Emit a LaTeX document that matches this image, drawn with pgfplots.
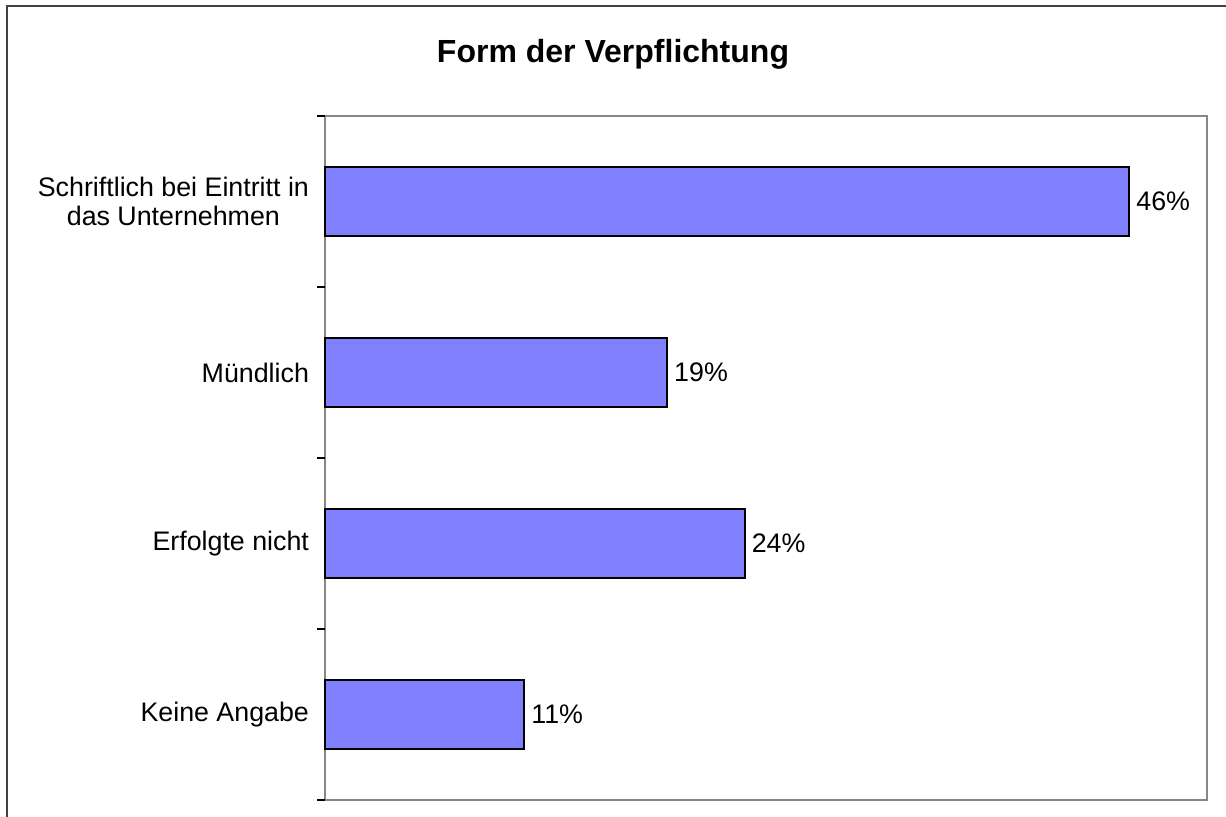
\documentclass[border=0pt]{standalone}
\usepackage{fontspec}
\setmainfont{Liberation Sans}
\usepackage{pgfplots}
\pgfplotsset{compat=1.18}
\definecolor{barblue}{HTML}{8080FF}
\definecolor{framegray}{HTML}{868686}
\begin{document}
\begin{tikzpicture}
\useasboundingbox (0,0) rectangle (613pt,408pt);
% outer chart frame (right and bottom edges fall outside the picture)
\draw[line width=0.8pt, draw=black!75] (3.5pt,-10pt) rectangle (625pt,405pt);
\node[anchor=base, font=\fontsize{16}{18}\selectfont\bfseries] at (306.5pt,376.5pt) {Form der Verpflichtung};
\begin{axis}[
    at={(162.5pt,8pt)}, anchor=south west,
    scale only axis,
    width=441pt, height=342pt,
    xbar,
    bar width=0.4,
    xmin=0, xmax=50,
    ymin=-0.5, ymax=3.5,
    y dir=reverse,
    xtick=\empty,
    ytick={0,1,2,3},
    yticklabels={{Schriftlich bei Eintritt in\\das Unternehmen},Mündlich,Erfolgte nicht,Keine Angabe},
    ytick pos=left,
    major tick length=0pt,
    extra y ticks={-0.5,0.5,1.5,2.5,3.5},
    extra y tick labels={},
    extra y tick style={major tick length=4pt, tick align=outside,
        tick style={black, line width=0.6pt}},
    yticklabel style={align=center, font=\fontsize{13.4}{14.5}\selectfont, xshift=-4.5pt},
    axis line style={draw=framegray, line width=1pt},
    point meta=x,
    /pgf/number format/assume math mode=true,
    nodes near coords={\pgfmathprintnumber[fixed,precision=0,assume math mode=true]{\pgfplotspointmeta}\%},
    nodes near coords style={anchor=west, inner sep=3pt, font=\fontsize{13.4}{15}\selectfont},
    clip=false,
]
\addplot[fill=barblue, draw=black, line width=1pt]
coordinates {(45.6,0) (19.4,1) (23.8,2) (11.3,3)};
\end{axis}
\end{tikzpicture}
\end{document}
